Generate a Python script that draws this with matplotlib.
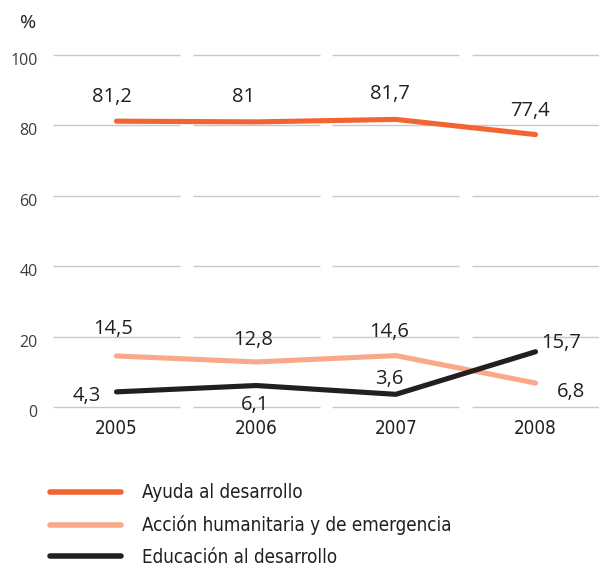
import matplotlib
matplotlib.use("Agg")
import matplotlib.pyplot as plt
import matplotlib.transforms as mtransforms

# data
years = ["2005", "2006", "2007", "2008"]
ayuda = [81.2, 81.0, 81.7, 77.4]
accion = [14.5, 12.8, 14.6, 6.8]
educacion = [4.3, 6.1, 3.6, 15.7]
ayuda_lbl = ["81,2", "81", "81,7", "77,4"]
accion_lbl = ["14,5", "12,8", "14,6", "6,8"]
educacion_lbl = ["4,3", "6,1", "3,6", "15,7"]
series_names = ["Ayuda al desarrollo",
                "Acción humanitaria y de emergencia",
                "Educación al desarrollo"]
yticks = [0, 20, 40, 60, 80, 100]

# label offsets in pixels (left edge of text relative to point)
ayuda_off = [(-24, 24), (-24, 25), (-26, 25), (-25, 24)]
accion_off = [(-23, 27), (-23, 22), (-27, 24), (21, -9)]
educacion_off = [(-44, -4), (-15, -19), (-21, 15), (6, 9)]

c_ayuda = "#f26533"
c_accion = "#f9a98a"
c_edu = "#231f20"

narrow = dict(family=["DejaVu Sans"], stretch="condensed")
lblfont = ["Open Sans", "DejaVu Sans"]

fig = plt.figure(figsize=(5.99, 5.66), dpi=100)
ax = fig.add_axes([53 / 599, (566 - 407) / 566, 546 / 599, 352 / 566])

x = list(range(len(years)))
half = 0.4545

# segmented grid lines, one piece per year band
for yt in yticks:
    for xi in x:
        ax.hlines(yt, xi - half, xi + half, color="#c8c8c8", lw=1.0,
                  zorder=1, clip_on=False)

lines = []
for vals, col in [(ayuda, c_ayuda), (accion, c_accion), (educacion, c_edu)]:
    ln, = ax.plot(x, vals, color=col, lw=3.7, solid_capstyle="round",
                  solid_joinstyle="round", zorder=3)
    lines.append(ln)

for vals, lbls, offs in [(ayuda, ayuda_lbl, ayuda_off),
                         (accion, accion_lbl, accion_off),
                         (educacion, educacion_lbl, educacion_off)]:
    for xi, v, t, o in zip(x, vals, lbls, offs):
        ax.annotate(t, (xi, v), xytext=o, textcoords="offset pixels",
                    ha="left", va="center", fontsize=14.5, color="#231f20",
                    family=lblfont, zorder=4)

ax.set_xlim(-half, len(years) - 1 + half)
ax.set_ylim(0, 100)
ax.set_yticks(yticks)
ax.set_yticklabels([str(v) for v in yticks], family=lblfont, fontsize=11.5,
                   color="#3c3c3c")
ax.set_xticks(x)
ax.set_xticklabels(years, fontsize=13.5, color="#231f20", **narrow)
ax.tick_params(axis="y", length=0, pad=11)
ax.tick_params(axis="x", length=0, pad=9)
for s in ax.spines.values():
    s.set_visible(False)
ax.set_facecolor("none")

# y tick labels sit slightly below their grid line
off = mtransforms.ScaledTranslation(0, -6 / 100, fig.dpi_scale_trans)
for lbl in ax.get_yticklabels():
    lbl.set_verticalalignment("center")
    lbl.set_transform(lbl.get_transform() + off)

fig.text(28 / 599, 1 - 23 / 566, "%", ha="center", va="center",
         fontsize=14, family=lblfont, color="#231f20")

leg = fig.legend(lines, series_names, loc="upper left",
                 bbox_to_anchor=(41 / 599, 1 - 474 / 566), frameon=False,
                 prop=dict(size=13.5, **narrow), handlelength=3.75,
                 handletextpad=1.15, labelspacing=0.68, borderpad=0)
for h in leg.get_lines():
    h.set_linewidth(4.0)
    h.set_solid_capstyle("round")
for t in leg.get_texts():
    t.set_color("#231f20")

fig.savefig("out.png", dpi=100)
